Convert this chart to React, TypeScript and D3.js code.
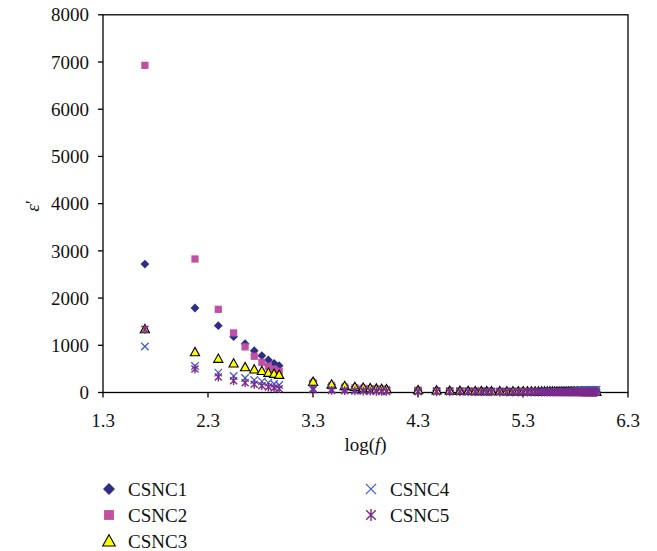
import React from "react";
import * as d3 from "d3";

const freqs = [50, 150, 250, 350, 450, 550, 650, 750, 850, 950,
  2000, 3000, 4000, 5000, 6000, 7000, 8000, 9000, 10000,
  20000, 30000, 40000, 50000, 60000, 70000, 80000, 90000, 100000,
  120000, 140000, 160000, 180000, 200000, 220000, 240000, 260000, 280000, 300000,
  320000, 340000, 360000, 380000, 400000, 420000, 440000, 460000, 480000, 500000,
  520000, 540000, 560000, 580000, 600000, 620000, 640000, 660000, 680000, 700000,
  720000, 740000, 760000, 780000, 800000, 820000, 840000, 860000, 880000, 900000,
  920000, 940000, 960000, 980000, 1000000];

const csnc1 = [2720, 1790, 1415, 1183, 1034, 886, 780, 689, 618, 568,
  240, 170, 140, 120, 105, 95, 88, 80, 75,
  55, 48, 44, 41, 38, 36, 35, 34, 33,
  32, 31, 31, 30, 30, 29, 29, 28, 28, 28,
  27, 27, 27, 26, 26, 26, 25, 25, 25, 25,
  24, 24, 24, 24, 23, 23, 23, 23, 23, 22,
  22, 22, 22, 22, 21, 21, 21, 21, 21, 21,
  20, 20, 20, 20, 20];
const csnc2 = [6930, 2828, 1762, 1262, 966, 767, 640, 555, 495, 450,
  200, 140, 115, 100, 90, 80, 73, 68, 63,
  48, 42, 38, 35, 33, 31, 30, 29, 28,
  27, 26, 25, 25, 24, 23, 23, 22, 22, 21,
  21, 20, 20, 20, 19, 19, 19, 18, 18, 18,
  18, 17, 17, 17, 17, 16, 16, 16, 16, 16,
  16, 15, 15, 15, 15, 15, 15, 15, 14, 14,
  14, 14, 14, 14, 14];
const csnc3 = [1345, 858, 717, 618, 540, 491, 460, 420, 398, 377,
  230, 170, 140, 120, 105, 95, 85, 78, 72,
  52, 45, 41, 38, 36, 34, 33, 32, 31,
  30, 29, 28, 28, 27, 27, 26, 26, 25, 25,
  25, 24, 24, 24, 23, 23, 23, 22, 22, 22,
  22, 21, 21, 21, 21, 20, 20, 20, 20, 20,
  19, 19, 19, 19, 19, 19, 18, 18, 18, 18,
  18, 18, 18, 18, 18];
const csnc4 = [975, 561, 420, 350, 307, 265, 237, 208, 180, 159,
  90, 70, 60, 52, 47, 43, 40, 37, 35,
  28, 25, 23, 22, 21, 20, 20, 19, 19,
  19, 19, 18, 18, 18, 18, 17, 17, 17, 17,
  17, 17, 17, 17, 17, 17, 17, 17, 17, 18,
  18, 19, 20, 21, 22, 24, 26, 28, 30, 32,
  34, 36, 38, 40, 42, 44, 46, 48, 50, 52,
  53, 54, 55, 56, 57];
const csnc5 = [1340, 498, 328, 250, 208, 174, 144, 117, 95, 81,
  60, 45, 38, 33, 30, 28, 26, 24, 22,
  18, 16, 15, 14, 13, 13, 12, 12, 12,
  11, 11, 10, 10, 10, 9, 9, 9, 9, 8,
  8, 8, 8, 8, 7, 7, 7, 7, 7, 7,
  7, 6, 6, 6, 6, 6, 6, 6, 6, 6,
  5, 5, 5, 5, 5, 5, 5, 5, 5, 5,
  5, 5, 5, 5, 5];

const seriesNames = ["CSNC1", "CSNC2", "CSNC3", "CSNC4", "CSNC5"];
const seriesValues = [csnc1, csnc2, csnc3, csnc4, csnc5];
const xTicks = [1.3, 2.3, 3.3, 4.3, 5.3, 6.3];
const yTicks = [0, 1000, 2000, 3000, 4000, 5000, 6000, 7000, 8000];

const FONT = "'Liberation Serif', 'Times New Roman', serif";
const colors = ["#2d2f82", "#c050a4", "#ffff00", "#3a5cc2", "#7b2a8c"];

function Marker({ kind, cx, cy, s }: { kind: number; cx: number; cy: number; s: number }) {
  if (kind === 0) {
    return <path d={`M${cx},${cy - s}L${cx + s},${cy}L${cx},${cy + s}L${cx - s},${cy}Z`} fill={colors[0]} />;
  }
  if (kind === 1) {
    return <rect x={cx - s * 0.82} y={cy - s * 0.82} width={s * 1.64} height={s * 1.64} fill={colors[1]} />;
  }
  if (kind === 2) {
    const h = s * 1.05;
    return <path d={`M${cx},${cy - h}L${cx + h},${cy + h * 0.8}L${cx - h},${cy + h * 0.8}Z`} fill={colors[2]} stroke="#000" strokeWidth={1.1} />;
  }
  if (kind === 3) {
    const a = s * 0.85;
    return <path d={`M${cx - a},${cy - a}L${cx + a},${cy + a}M${cx - a},${cy + a}L${cx + a},${cy - a}`} stroke={colors[3]} strokeWidth={1.2} fill="none" />;
  }
  const a = s * 0.8;
  return <path d={`M${cx - a},${cy - a}L${cx + a},${cy + a}M${cx - a},${cy + a}L${cx + a},${cy - a}M${cx},${cy - s}L${cx},${cy + s}`} stroke={colors[4]} strokeWidth={1.4} fill="none" />;
}

export default function App() {
  const x = d3.scaleLinear().domain([1.3, 6.3]).range([103, 628]);
  const y = d3.scaleLinear().domain([0, 8000]).range([392.5, 14.8]);
  const x0 = x(1.3), x1 = x(6.3), y0 = y(0), y1 = y(8000);

  const legend = [
    { i: 0, lx: 109, ly: 489 },
    { i: 1, lx: 109, ly: 515 },
    { i: 2, lx: 109, ly: 541 },
    { i: 3, lx: 371, ly: 489 },
    { i: 4, lx: 371, ly: 515 },
  ];

  return (
    <div style={{ position: "absolute", left: 0, top: 0 }}>
      <svg width={657} height={551} style={{ display: "block", background: "#fff" }} fontFamily={FONT}>
        {/* frame */}
        <rect x={x0} y={y1} width={x1 - x0} height={y0 - y1} fill="none" stroke="#000" strokeWidth={1.3} />
        {yTicks.map((t) => (
          <g key={"y" + t}>
            <line x1={x0 - 5} x2={x0} y1={y(t)} y2={y(t)} stroke="#000" strokeWidth={1.3} />
            <text x={x0 - 14} y={y(t)} dy="0.35em" textAnchor="end" fontSize={19} fill="#111">{t}</text>
          </g>
        ))}
        {xTicks.map((t) => (
          <g key={"x" + t}>
            <line x1={x(t)} x2={x(t)} y1={y0} y2={y0 + 5} stroke="#000" strokeWidth={1.3} />
            <text x={x(t)} y={y0 + 34} textAnchor="middle" fontSize={19} fill="#111">{t.toFixed(1)}</text>
          </g>
        ))}
        <text x={(x0 + x1) / 2} y={451} textAnchor="middle" fontSize={19} fill="#111">
          log(<tspan fontStyle="italic">f</tspan>)
        </text>
        <text transform={`translate(39,206) rotate(-90)`} textAnchor="middle" fontSize={19} fill="#111">
          <tspan fontStyle="italic">ε</tspan>′
        </text>
        {seriesValues.map((vals, si) => (
          <g key={"s" + si}>
            {vals.map((v, j) => (
              <Marker key={j} kind={si} cx={x(Math.log10(freqs[j]))} cy={y(v)} s={4.4} />
            ))}
          </g>
        ))}
        {legend.map((l) => (
          <g key={"l" + l.i}>
            <Marker kind={l.i} cx={l.lx} cy={l.ly} s={6} />
            <text x={l.lx + 19} y={l.ly} dy="0.35em" fontSize={19} fill="#111">{seriesNames[l.i]}</text>
          </g>
        ))}
      </svg>
    </div>
  );
}
